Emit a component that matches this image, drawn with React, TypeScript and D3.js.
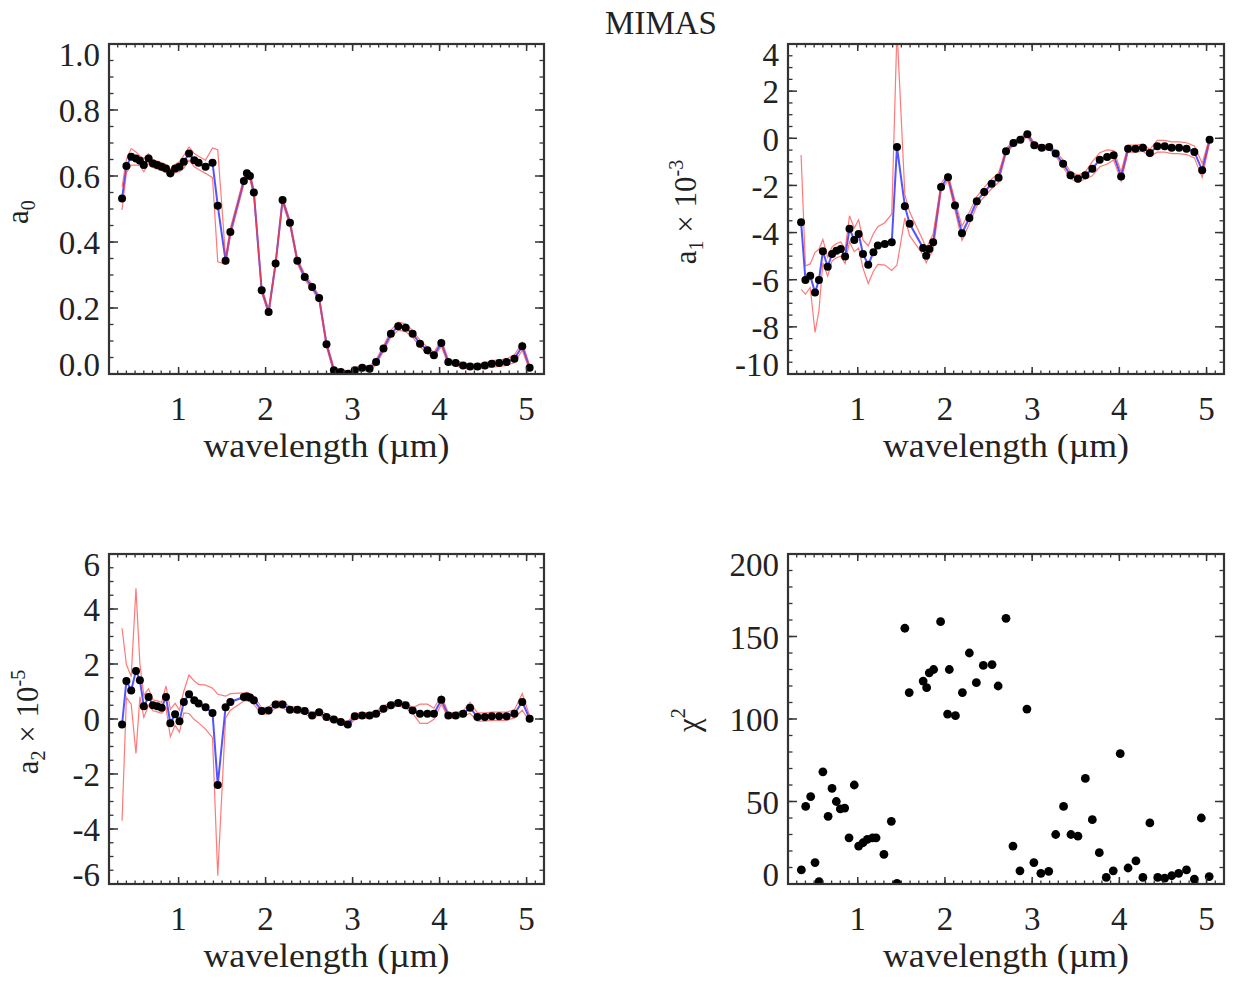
import React from "react";
import * as d3 from "d3";

// ---------- data ----------
const wavelengths = [0.35, 0.40, 0.455, 0.51, 0.555, 0.60, 0.655, 0.705, 0.755, 0.805, 0.855, 0.905, 0.96, 1.01, 1.06, 1.12, 1.18, 1.23, 1.31, 1.39, 1.45, 1.54, 1.595, 1.75, 1.785, 1.82, 1.865, 1.955, 2.035, 2.115, 2.195, 2.28, 2.365, 2.45, 2.535, 2.615, 2.70, 2.785, 2.865, 2.945, 3.025, 3.11, 3.195, 3.27, 3.355, 3.44, 3.525, 3.61, 3.69, 3.775, 3.86, 3.935, 4.02, 4.10, 4.185, 4.27, 4.35, 4.435, 4.52, 4.60, 4.685, 4.77, 4.86, 4.95, 5.035];

const a0 = [0.532, 0.63, 0.658, 0.653, 0.646, 0.633, 0.653, 0.638, 0.633, 0.628, 0.623, 0.608, 0.623, 0.628, 0.643, 0.668, 0.648, 0.64, 0.628, 0.64, 0.51, 0.343, 0.43, 0.585, 0.608, 0.60, 0.55, 0.254, 0.188, 0.335, 0.527, 0.458, 0.343, 0.294, 0.264, 0.23, 0.09, 0.011, 0.006, 0.001, 0.011, 0.019, 0.016, 0.036, 0.077, 0.122, 0.145, 0.14, 0.122, 0.092, 0.072, 0.057, 0.094, 0.036, 0.033, 0.026, 0.023, 0.023, 0.026, 0.031, 0.033, 0.036, 0.046, 0.084, 0.019];
const a0Err = [0.035, 0.02, 0.025, 0.02, 0.015, 0.02, 0.015, 0.012, 0.012, 0.012, 0.012, 0.012, 0.012, 0.015, 0.02, 0.02, 0.02, 0.02, 0.02, 0.045, 0.17, 0.01, 0.012, 0.01, 0.01, 0.01, 0.01, 0.008, 0.008, 0.008, 0.008, 0.008, 0.008, 0.008, 0.008, 0.008, 0.008, 0.008, 0.008, 0.008, 0.008, 0.008, 0.008, 0.008, 0.008, 0.01, 0.012, 0.012, 0.01, 0.01, 0.01, 0.008, 0.01, 0.008, 0.008, 0.008, 0.008, 0.008, 0.008, 0.01, 0.01, 0.01, 0.012, 0.012, 0.008];

const a1 = [-3.56, -6.01, -5.83, -6.54, -6.01, -4.79, -5.45, -4.91, -4.77, -4.70, -5.02, -3.84, -4.31, -4.06, -4.91, -5.36, -4.84, -4.55, -4.48, -4.41, -0.37, -2.88, -3.63, -4.65, -4.98, -4.70, -4.41, -2.07, -1.65, -2.85, -4.03, -3.38, -2.67, -2.28, -1.93, -1.67, -0.55, -0.20, -0.06, 0.17, -0.30, -0.40, -0.37, -0.65, -1.08, -1.57, -1.72, -1.57, -1.29, -0.91, -0.79, -0.72, -1.62, -0.44, -0.44, -0.40, -0.62, -0.34, -0.34, -0.40, -0.40, -0.44, -0.58, -1.36, -0.06];
const a1Err = [2.85, 0.6, 0.5, 1.7, 1.3, 0.5, 0.4, 0.3, 0.3, 0.3, 0.3, 0.55, 0.5, 0.6, 0.6, 0.8, 0.8, 0.8, 0.9, 1.2, 5.0, 0.5, 0.5, 0.3, 0.3, 0.3, 0.35, 0.15, 0.15, 0.2, 0.3, 0.25, 0.2, 0.2, 0.2, 0.2, 0.1, 0.1, 0.1, 0.1, 0.1, 0.1, 0.1, 0.1, 0.15, 0.15, 0.15, 0.15, 0.3, 0.3, 0.3, 0.2, 0.2, 0.15, 0.15, 0.15, 0.15, 0.25, 0.25, 0.25, 0.25, 0.25, 0.25, 0.3, 0.1];

const a2 = [-0.2, 1.38, 1.04, 1.75, 1.41, 0.46, 0.80, 0.50, 0.46, 0.41, 0.80, -0.15, 0.17, -0.08, 0.62, 0.90, 0.68, 0.56, 0.43, 0.22, -2.40, 0.43, 0.62, 0.80, 0.82, 0.78, 0.68, 0.29, 0.31, 0.53, 0.53, 0.34, 0.34, 0.29, 0.13, 0.25, 0.07, -0.02, -0.11, -0.2, 0.1, 0.13, 0.13, 0.19, 0.37, 0.50, 0.58, 0.50, 0.31, 0.19, 0.19, 0.19, 0.70, 0.13, 0.13, 0.19, 0.41, 0.07, 0.07, 0.1, 0.1, 0.1, 0.19, 0.62, 0.01];
const a2Err = [3.5, 0.6, 0.5, 3.0, 0.6, 0.4, 0.3, 0.2, 0.2, 0.2, 0.4, 0.5, 0.4, 0.4, 0.4, 0.7, 0.7, 0.7, 0.8, 0.9, 3.3, 0.4, 0.3, 0.15, 0.15, 0.15, 0.15, 0.12, 0.12, 0.12, 0.12, 0.1, 0.1, 0.1, 0.1, 0.1, 0.1, 0.1, 0.1, 0.1, 0.1, 0.1, 0.1, 0.1, 0.1, 0.1, 0.1, 0.1, 0.1, 0.35, 0.35, 0.2, 0.15, 0.1, 0.1, 0.1, 0.2, 0.15, 0.15, 0.15, 0.15, 0.15, 0.15, 0.3, 0.1];

const chiWavelengths = [0.353, 0.403, 0.46, 0.51, 0.556, 0.60, 0.66, 0.705, 0.754, 0.80, 0.85, 0.90, 0.96, 1.01, 1.06, 1.11, 1.17, 1.21, 1.30, 1.385, 1.45, 1.54, 1.59, 1.75, 1.79, 1.82, 1.87, 1.95, 2.03, 2.05, 2.12, 2.20, 2.28, 2.36, 2.44, 2.54, 2.61, 2.70, 2.78, 2.86, 2.94, 3.02, 3.10, 3.19, 3.27, 3.36, 3.445, 3.525, 3.61, 3.69, 3.77, 3.85, 3.93, 4.01, 4.10, 4.19, 4.27, 4.35, 4.44, 4.52, 4.60, 4.68, 4.77, 4.86, 4.94, 5.03];
const chi2 = [8.5, 47, 53, 13, 1.4, 68, 41, 58, 50, 45.5, 46, 28, 60, 23, 25, 27, 28, 28, 18, 38, 0.4, 155, 116, 123, 119, 128, 130, 159, 103, 130, 102, 116, 140, 122, 132.5, 133, 120, 161, 23, 8, 106, 13, 6.5, 7.7, 30, 47, 30, 29, 64, 39, 19, 4, 8, 79, 9.7, 14, 4, 37, 4, 3.6, 5, 6.5, 8.5, 3, 40, 4.5];

const xTickLabels = [1, 2, 3, 4, 5];
const a0Ticks = [0.0, 0.2, 0.4, 0.6, 0.8, 1.0];
const a1Ticks = [-10, -8, -6, -4, -2, 0, 2, 4];
const a2Ticks = [-6, -4, -2, 0, 2, 4, 6];
const chiTicks = [0, 50, 100, 150, 200];

const title = "MIMAS";
const xLabel = "wavelength (\u00b5m)";

// ---------- layout ----------
const W = 1238;
const H = 984;
const FONT = "'Liberation Serif', 'Times New Roman', Times, serif";
const TXT = "#222";
const FS = 33;

type PanelProps = {
  id: string;
  x0: number; x1: number; y0: number; y1: number;
  yDomain: [number, number];
  yTicks: number[];
  yMinorStep: number;
  fmt: (v: number) => string;
  yLabel: React.ReactNode;
  children: (x: d3.ScaleLinear<number, number>, y: d3.ScaleLinear<number, number>) => React.ReactNode;
};

function Panel(p: PanelProps) {
  const x = d3.scaleLinear().domain([0.2, 5.2]).range([p.x0, p.x1]);
  const y = d3.scaleLinear().domain(p.yDomain).range([p.y1, p.y0]);
  const xMinor = d3.range(0.2, 5.2001, 0.1);
  const yMinor = d3.range(p.yDomain[0], p.yDomain[1] + 1e-6, p.yMinorStep);
  const xMajLen = 7, xMinLen = 3.5, yMajLen = 9, yMinLen = 4.5;
  const tickStroke = "#333";
  return (
    <g>
      <defs>
        <clipPath id={"clip-" + p.id}>
          <rect x={p.x0} y={p.y0} width={p.x1 - p.x0} height={p.y1 - p.y0} />
        </clipPath>
      </defs>
      <g clipPath={`url(#clip-${p.id})`}>{p.children(x, y)}</g>
      {xMinor.map((v, i) => (
        <g key={"xm" + i}>
          <line x1={x(v)} x2={x(v)} y1={p.y1} y2={p.y1 - xMinLen} stroke={tickStroke} strokeWidth={1.3} />
          <line x1={x(v)} x2={x(v)} y1={p.y0} y2={p.y0 + xMinLen} stroke={tickStroke} strokeWidth={1.3} />
        </g>
      ))}
      {xTickLabels.map((v) => (
        <g key={"xM" + v}>
          <line x1={x(v)} x2={x(v)} y1={p.y1} y2={p.y1 - xMajLen} stroke={tickStroke} strokeWidth={1.5} />
          <line x1={x(v)} x2={x(v)} y1={p.y0} y2={p.y0 + xMajLen} stroke={tickStroke} strokeWidth={1.5} />
          <text x={x(v)} y={p.y1 + 46} textAnchor="middle" fontFamily={FONT} fontSize={FS} fill={TXT}>
            {v}
          </text>
        </g>
      ))}
      {yMinor.map((v, i) => (
        <g key={"ym" + i}>
          <line x1={p.x0} x2={p.x0 + yMinLen} y1={y(v)} y2={y(v)} stroke={tickStroke} strokeWidth={1.3} />
          <line x1={p.x1} x2={p.x1 - yMinLen} y1={y(v)} y2={y(v)} stroke={tickStroke} strokeWidth={1.3} />
        </g>
      ))}
      {p.yTicks.map((v, i) => {
        const off = i === p.yTicks.length - 1 ? 11 : i === 0 ? -9 : 1;
        return (
          <g key={"yM" + i}>
            <line x1={p.x0} x2={p.x0 + yMajLen} y1={y(v)} y2={y(v)} stroke={tickStroke} strokeWidth={1.5} />
            <line x1={p.x1} x2={p.x1 - yMajLen} y1={y(v)} y2={y(v)} stroke={tickStroke} strokeWidth={1.5} />
            <text x={p.x0 - 9} y={y(v) + off} dy="0.34em" textAnchor="end" fontFamily={FONT} fontSize={FS} fill={TXT}>
              {p.fmt(v)}
            </text>
          </g>
        );
      })}
      <rect x={p.x0} y={p.y0} width={p.x1 - p.x0} height={p.y1 - p.y0} fill="none" stroke="#333" strokeWidth={2.2} />
      <text x={(p.x0 + p.x1) / 2} y={p.y1 + 83} textAnchor="middle" fontFamily={FONT} fontSize={FS} fill={TXT}
        textLength={246} lengthAdjust="spacingAndGlyphs">
        {xLabel}
      </text>
      {p.yLabel}
    </g>
  );
}

function Curves({ x, y, vals, errs }: { x: any; y: any; vals: number[]; errs: number[] }) {
  const line = d3.line<number>().x((_, i) => x(wavelengths[i])).y((d) => y(d));
  const upper = vals.map((v, i) => v + errs[i]);
  const lower = vals.map((v, i) => v - errs[i]);
  return (
    <g>
      <path d={line(vals) || ""} fill="none" stroke="#3535ff" strokeWidth={2} strokeOpacity={0.85} />
      <path d={line(upper) || ""} fill="none" stroke="#ff3a3a" strokeWidth={1.2} strokeOpacity={0.68} />
      <path d={line(lower) || ""} fill="none" stroke="#ff3a3a" strokeWidth={1.2} strokeOpacity={0.68} />
      {vals.map((v, i) => (
        <circle key={i} cx={x(wavelengths[i])} cy={y(v)} r={4} fill="#000" />
      ))}
    </g>
  );
}

function RotLabel({ cx, cy, children }: { cx: number; cy: number; children: React.ReactNode }) {
  return (
    <text transform={`translate(${cx},${cy}) rotate(-90)`} textAnchor="middle" fontFamily={FONT} fontSize={31} fill={TXT}>
      {children}
    </text>
  );
}

export default function App() {
  const intFmt = (v: number) => String(v);
  return (
    <svg width={W} height={H} style={{ position: "absolute", left: 0, top: 0, background: "#fff" }}>
      <rect width={W} height={H} fill="#fff" />
      <text x={661} y={34} textAnchor="middle" fontFamily={FONT} fontSize={FS} fill={TXT}>{title}</text>

      <Panel id="p1" x0={109} x1={544} y0={44} y1={374} yDomain={[0, 1]} yTicks={a0Ticks} yMinorStep={0.05}
        fmt={(v) => v.toFixed(1)}
        yLabel={
          <RotLabel cx={28} cy={212}>
            a<tspan fontSize={20} dy={7}>0</tspan>
          </RotLabel>
        }>
        {(x, y) => <Curves x={x} y={y} vals={a0} errs={a0Err} />}
      </Panel>

      <Panel id="p2" x0={788} x1={1224} y0={44} y1={374} yDomain={[-10, 4]} yTicks={a1Ticks} yMinorStep={0.5}
        fmt={intFmt}
        yLabel={
          <RotLabel cx={696} cy={212}>
            a<tspan fontSize={20} dy={7}>1</tspan><tspan dy={-7}>{" \u00d7 10"}</tspan><tspan fontSize={20} dy={-13}>-3</tspan>
          </RotLabel>
        }>
        {(x, y) => <Curves x={x} y={y} vals={a1} errs={a1Err} />}
      </Panel>

      <Panel id="p3" x0={109} x1={544} y0={554} y1={884} yDomain={[-6, 6]} yTicks={a2Ticks} yMinorStep={0.5}
        fmt={intFmt}
        yLabel={
          <RotLabel cx={38} cy={722}>
            a<tspan fontSize={20} dy={7}>2</tspan><tspan dy={-7}>{" \u00d7 10"}</tspan><tspan fontSize={20} dy={-13}>-5</tspan>
          </RotLabel>
        }>
        {(x, y) => <Curves x={x} y={y} vals={a2} errs={a2Err} />}
      </Panel>

      <Panel id="p4" x0={788} x1={1224} y0={554} y1={884} yDomain={[0, 200]} yTicks={chiTicks} yMinorStep={10}
        fmt={intFmt}
        yLabel={
          <RotLabel cx={699} cy={720}>
            {"\u03c7"}<tspan fontSize={20} dy={-14}>2</tspan>
          </RotLabel>
        }>
        {(x, y) => (
          <g>
            {chi2.map((v, i) => (
              <circle key={i} cx={x(chiWavelengths[i])} cy={y(v)} r={4.4} fill="#000" />
            ))}
          </g>
        )}
      </Panel>
    </svg>
  );
}
